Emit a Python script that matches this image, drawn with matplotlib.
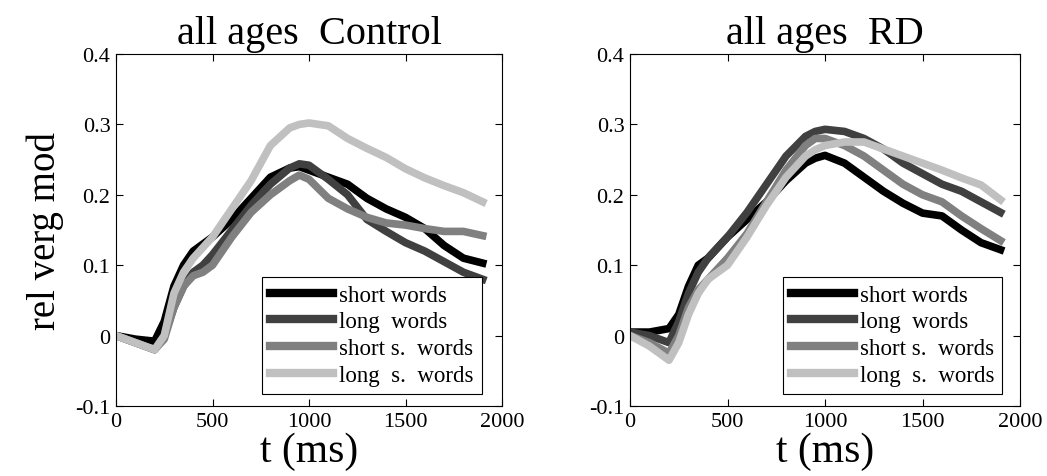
import numpy as np
import matplotlib
matplotlib.use("Agg")
import matplotlib.pyplot as plt

plt.rcParams['font.family'] = ['Liberation Serif', 'DejaVu Serif']

# time axis (ms)
t = [0, 100, 200, 250, 300, 350, 400, 450, 500, 600, 700, 800, 900, 950, 1000,
     1100, 1200, 1300, 1400, 1500, 1600, 1700, 1800, 1900]

# Control group
ctrl_short = [0, -0.005, -0.008, 0.02, 0.07, 0.10, 0.12, 0.13, 0.14, 0.165, 0.195, 0.225, 0.238, 0.24, 0.235,
              0.225, 0.215, 0.195, 0.18, 0.168, 0.152, 0.128, 0.11, 0.103]
ctrl_long = [0, -0.01, -0.02, 0.0, 0.04, 0.07, 0.09, 0.10, 0.115, 0.15, 0.185, 0.215, 0.238, 0.244, 0.242,
             0.222, 0.20, 0.165, 0.148, 0.132, 0.12, 0.105, 0.09, 0.08]
ctrl_short_s = [0, -0.01, -0.02, -0.005, 0.04, 0.07, 0.085, 0.09, 0.10, 0.14, 0.175, 0.20, 0.22, 0.228, 0.222,
                0.195, 0.18, 0.168, 0.16, 0.157, 0.152, 0.148, 0.148, 0.142]
ctrl_long_s = [0, -0.01, -0.02, 0.0, 0.06, 0.09, 0.11, 0.125, 0.14, 0.18, 0.22, 0.27, 0.295, 0.300, 0.302,
               0.298, 0.28, 0.266, 0.253, 0.237, 0.224, 0.213, 0.203, 0.19]

# RD group
rd_short = [0.005, 0.005, 0.01, 0.03, 0.07, 0.10, 0.11, 0.125, 0.14, 0.165, 0.19, 0.22, 0.245, 0.252, 0.256,
            0.245, 0.225, 0.205, 0.188, 0.174, 0.17, 0.15, 0.132, 0.122]
rd_long = [0.005, 0.0, -0.01, 0.02, 0.06, 0.09, 0.11, 0.125, 0.14, 0.175, 0.215, 0.255, 0.283, 0.29, 0.293,
           0.29, 0.28, 0.265, 0.245, 0.23, 0.215, 0.205, 0.19, 0.175]
rd_short_s = [0, -0.01, -0.025, 0.0, 0.04, 0.065, 0.08, 0.095, 0.11, 0.145, 0.19, 0.235, 0.27, 0.28, 0.28,
              0.27, 0.255, 0.235, 0.215, 0.2, 0.19, 0.17, 0.152, 0.135]
rd_long_s = [0, -0.015, -0.035, -0.01, 0.03, 0.06, 0.08, 0.09, 0.10, 0.14, 0.185, 0.225, 0.255, 0.264, 0.27,
             0.275, 0.275, 0.265, 0.255, 0.245, 0.235, 0.224, 0.214, 0.193]

labels = ['short words', 'long  words', 'short s.  words', 'long  s.  words']
colors = ['black', '#404040', '#808080', '#c0c0c0']

fig = plt.figure(figsize=(10.47, 4.77), dpi=100)
ax1 = fig.add_axes([116/1047, 1 - 407/477, 386/1047, 352/477])
ax2 = fig.add_axes([630/1047, 1 - 407/477, 390/1047, 352/477])

panels = [(ax1, 'all ages  Control', [ctrl_short, ctrl_long, ctrl_short_s, ctrl_long_s], 0.948),
          (ax2, 'all ages  RD', [rd_short, rd_long, rd_short_s, rd_long_s], 0.954)]

for ax, title, series, lx in panels:
    for y, c, lab in zip(series, colors, labels):
        ax.plot(t, y, color=c, lw=5.5, label=lab, solid_joinstyle='round')
    ax.set_xlim(0, 2000)
    ax.set_ylim(-0.1, 0.4)
    ax.set_xticks([0, 500, 1000, 1500, 2000])
    ax.set_yticks([-0.1, 0, 0.1, 0.2, 0.3, 0.4])
    ax.set_yticklabels(['-0.1', '0', '0.1', '0.2', '0.3', '0.4'])
    ax.tick_params(direction='in', top=True, right=True, labelsize=16, length=5, pad=4)
    ax.set_title(title, fontsize=29, pad=8)
    ax.set_xlabel('t (ms)', fontsize=30, labelpad=1)
    leg = ax.legend(loc='lower right', bbox_to_anchor=(lx, 0.034), fontsize=16.5,
                    handlelength=2.75, fancybox=False, edgecolor='black', framealpha=1,
                    borderpad=0.35, labelspacing=0.25, handletextpad=0.26, borderaxespad=0)
    leg.get_frame().set_linewidth(0.8)
    for h in leg.get_lines():
        h.set_linewidth(6)

ax1.set_ylabel('rel verg mod', fontsize=28, labelpad=8)

fig.savefig('out.png', dpi=100)
